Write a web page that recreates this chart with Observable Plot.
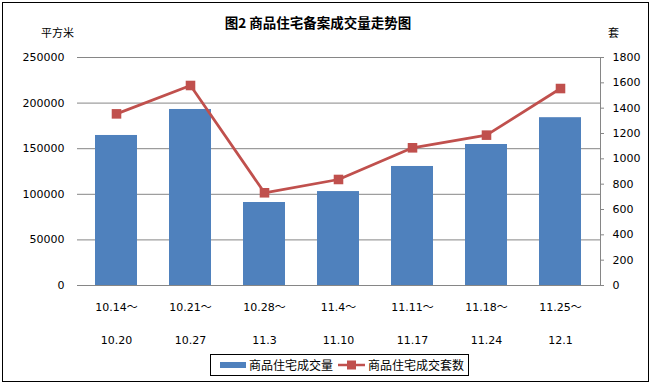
<!DOCTYPE html>
<html>
<head>
<meta charset="utf-8">
<script src="https://cdn.jsdelivr.net/npm/d3@7"></script>
<script src="https://cdn.jsdelivr.net/npm/@observablehq/plot@0.6"></script>
<style>
  html, body { margin: 0; padding: 0; background: #fff; }
  #wrap { position: relative; width: 651px; height: 384px; overflow: hidden; background: #fff; font-family: "DejaVu Sans", "Noto Sans CJK SC", sans-serif; }
  #border { position: absolute; left: 2px; top: 2px; width: 645px; height: 378px; border: 1px solid #000; pointer-events: none; }
  #chart { position: absolute; left: 0; top: 0; }
  .lbl { position: absolute; font-family: "Noto Sans CJK SC", sans-serif; color: #000; white-space: nowrap; line-height: 1; }
  #title { left: 0; width: 636px; top: 16px; text-align: center; font-size: 13.5px; font-weight: bold; }
  #unitL { left: 41px; top: 27px; font-size: 11px; }
  #unitR { left: 608px; top: 27px; font-size: 11px; }
  #legend { position: absolute; left: 210px; top: 354px; width: 259px; height: 22px; border: 1px solid #000; box-sizing: border-box; display: flex; align-items: center; font-family: "Noto Sans CJK SC", sans-serif; font-size: 12px; white-space: nowrap; }
  #legend .item { display: flex; align-items: center; flex-shrink: 0; }
  #legend span { white-space: nowrap; line-height: 1; }
</style>
</head>
<body>
<div id="wrap">
  <div id="chart"></div>
  <div class="lbl" id="title">图2 商品住宅备案成交量走势图</div>
  <div class="lbl" id="unitL">平方米</div>
  <div class="lbl" id="unitR">套</div>
  <div id="legend"></div>
  <div id="border"></div>
</div>
<script>
// ---- data ----
const categories = ["10.14～10.20", "10.21～10.27", "10.28～11.3", "11.4～11.10", "11.11～11.17", "11.18～11.24", "11.25～12.1"];
const labelLine1 = ["10.14～", "10.21～", "10.28～", "11.4～", "11.11～", "11.18～", "11.25～"];
const labelLine2 = ["10.20", "10.27", "11.3", "11.10", "11.17", "11.24", "12.1"];
const areaValues = [164500, 193000, 91000, 103000, 130500, 154600, 184000];   // 商品住宅成交量 (平方米)
const unitValues = [1355, 1579, 732, 837, 1087, 1187, 1555];                    // 商品住宅成交套数 (套)
const leftTicks = [0, 50000, 100000, 150000, 200000, 250000];
const rightTicks = [0, 200, 400, 600, 800, 1000, 1200, 1400, 1600, 1800];
const seriesNames = ["商品住宅成交量", "商品住宅成交套数"];

const leftMax = 250000, rightMax = 1800;
const k = leftMax / rightMax;

const data = categories.map((c, i) => ({cat: c, area: areaValues[i], units: unitValues[i], l1: labelLine1[i], l2: labelLine2[i]}));

const BLUE = "#4F81BD", RED = "#C0504D", GRID = "#868686";
const font = "DejaVu Sans, Noto Sans CJK SC, sans-serif";

const chart = Plot.plot({
  width: 651,
  height: 384,
  marginLeft: 77,
  marginRight: 51,
  marginTop: 57,
  marginBottom: 99,
  style: {fontFamily: font, fontSize: "11px", color: "#000", background: "transparent"},
  x: {domain: categories, paddingInner: 0.43, paddingOuter: 0.215, axis: null},
  y: {domain: [0, leftMax], axis: null},
  marks: [
    Plot.ruleY(leftTicks, {stroke: GRID, strokeWidth: 1}),
    Plot.frame({anchor: "right", stroke: GRID}),
    Plot.barY(data, {x: "cat", y: "area", fill: BLUE}),
    Plot.line(data, {x: "cat", y: d => d.units * k, stroke: RED, strokeWidth: 2.75}),
    Plot.dot(data, {x: "cat", y: d => d.units * k, symbol: "square", r: 5.4, fill: RED, stroke: "none"}),
    Plot.axisY(leftTicks, {anchor: "left", label: null, tickSize: 0, tickPadding: 13, tickFormat: d => String(d), fill: "#000", fontSize: 11}),
    Plot.axisY(rightTicks.map(v => v * k), {anchor: "right", label: null, tickSize: 3, tickPadding: 9, stroke: GRID, tickFormat: d => String(Math.round(d / k)), fill: "#000", fontSize: 11}),
    Plot.text(data, {x: "cat", frameAnchor: "bottom", dy: 25, text: "l1", fill: "#000", fontSize: 11}),
    Plot.text(data, {x: "cat", frameAnchor: "bottom", dy: 58, text: "l2", fill: "#000", fontSize: 11})
  ]
});
document.getElementById("chart").appendChild(chart);

// legend
const legend = document.getElementById("legend");
legend.innerHTML = `
  <div class="item" style="margin-left:9px">
    <svg width="26" height="8"><rect x="0" y="1" width="26" height="6" fill="${BLUE}"/></svg>
    <span style="margin-left:3px">${seriesNames[0]}</span>
  </div>
  <div class="item" style="margin-left:5px">
    <svg width="27" height="10"><line x1="0" y1="5" x2="27" y2="5" stroke="${RED}" stroke-width="2.5"/><rect x="9" y="0.5" width="9" height="9" fill="${RED}"/></svg>
    <span style="margin-left:3px">${seriesNames[1]}</span>
  </div>`;
</script>
</body>
</html>
